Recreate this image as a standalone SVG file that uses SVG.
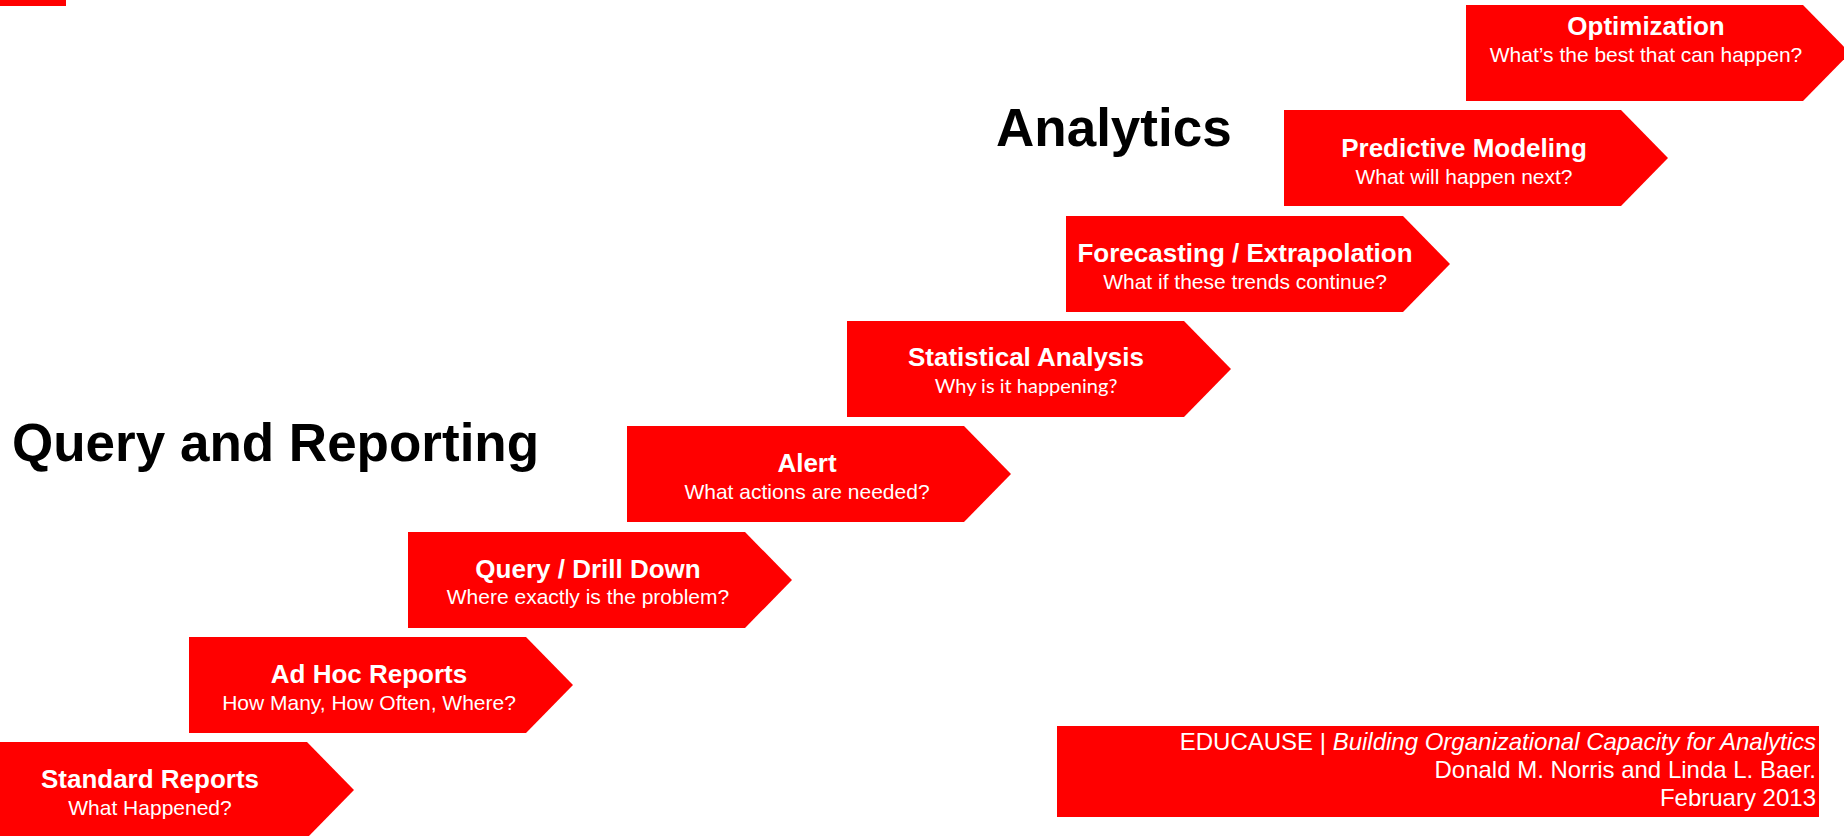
<svg xmlns="http://www.w3.org/2000/svg" width="1844" height="836" viewBox="0 0 1844 836">
<style>
.chev{fill:#FF0000;}
.t{font-family:"Liberation Sans",Arial,sans-serif;font-weight:bold;font-size:26px;fill:#FFFFFF;text-anchor:middle;}
.s{font-family:"Liberation Sans",Arial,sans-serif;font-size:21px;fill:#FFFFFF;text-anchor:middle;}
.s2{font-family:Lato,"Open Sans",sans-serif;font-size:20px;fill:#FFFFFF;text-anchor:middle;}
.h{font-family:"Liberation Sans",Arial,sans-serif;font-weight:bold;font-size:53px;fill:#000000;}
.f{font-family:"Liberation Sans",Arial,sans-serif;font-size:24px;fill:#FFFFFF;text-anchor:end;}
</style>
<defs>
<path id="chevron" d="M0,0 h337 l47,48 l-47,48 h-337 z"/>
</defs>
<rect width="1844" height="836" fill="#FFFFFF"/>
<rect x="0" y="0" width="66" height="6" fill="#FF0000"/>
<text class="h" x="996" y="146">Analytics</text>
<text class="h" x="12" y="461">Query and Reporting</text>
<g id="connectors"></g>
<g id="standard-reports">
<use href="#chevron" class="chev" x="-30" y="742"/>
<text class="t" x="150" y="788">Standard Reports</text>
<text class="s" x="150" y="815">What Happened?</text>
</g>
<g id="ad-hoc-reports">
<use href="#chevron" class="chev" x="189" y="637"/>
<text class="t" x="369" y="683">Ad Hoc Reports</text>
<text class="s" x="369" y="710">How Many, How Often, Where?</text>
</g>
<g id="query-drill-down">
<use href="#chevron" class="chev" x="408" y="532"/>
<text class="t" x="588" y="578">Query / Drill Down</text>
<text class="s" x="588" y="604">Where exactly is the problem?</text>
</g>
<g id="alert">
<use href="#chevron" class="chev" x="627" y="426"/>
<text class="t" x="807" y="472">Alert</text>
<text class="s" x="807" y="499">What actions are needed?</text>
</g>
<g id="statistical-analysis">
<use href="#chevron" class="chev" x="847" y="321"/>
<text class="t" x="1026" y="366">Statistical Analysis</text>
<text class="s2" x="1026" y="393">Why is it happening?</text>
</g>
<g id="forecasting">
<use href="#chevron" class="chev" x="1066" y="216"/>
<text class="t" x="1245" y="262">Forecasting / Extrapolation</text>
<text class="s" x="1245" y="289">What if these trends continue?</text>
</g>
<g id="predictive-modeling">
<use href="#chevron" class="chev" x="1284" y="110"/>
<text class="t" x="1464" y="157">Predictive Modeling</text>
<text class="s" x="1464" y="184">What will happen next?</text>
</g>
<g id="optimization">
<use href="#chevron" class="chev" x="1466" y="5"/>
<text class="t" x="1646" y="35">Optimization</text>
<text class="s" x="1646" y="62">What’s the best that can happen?</text>
</g>
<g id="footer">
<rect x="1057" y="726" width="762" height="91" fill="#FF0000"/>
<text class="f" x="1816" y="750">EDUCAUSE | <tspan font-style="italic">Building Organizational Capacity for Analytics</tspan></text>
<text class="f" x="1816" y="778">Donald M. Norris and Linda L. Baer.</text>
<text class="f" x="1816" y="806">February 2013</text>
</g>
</svg>
